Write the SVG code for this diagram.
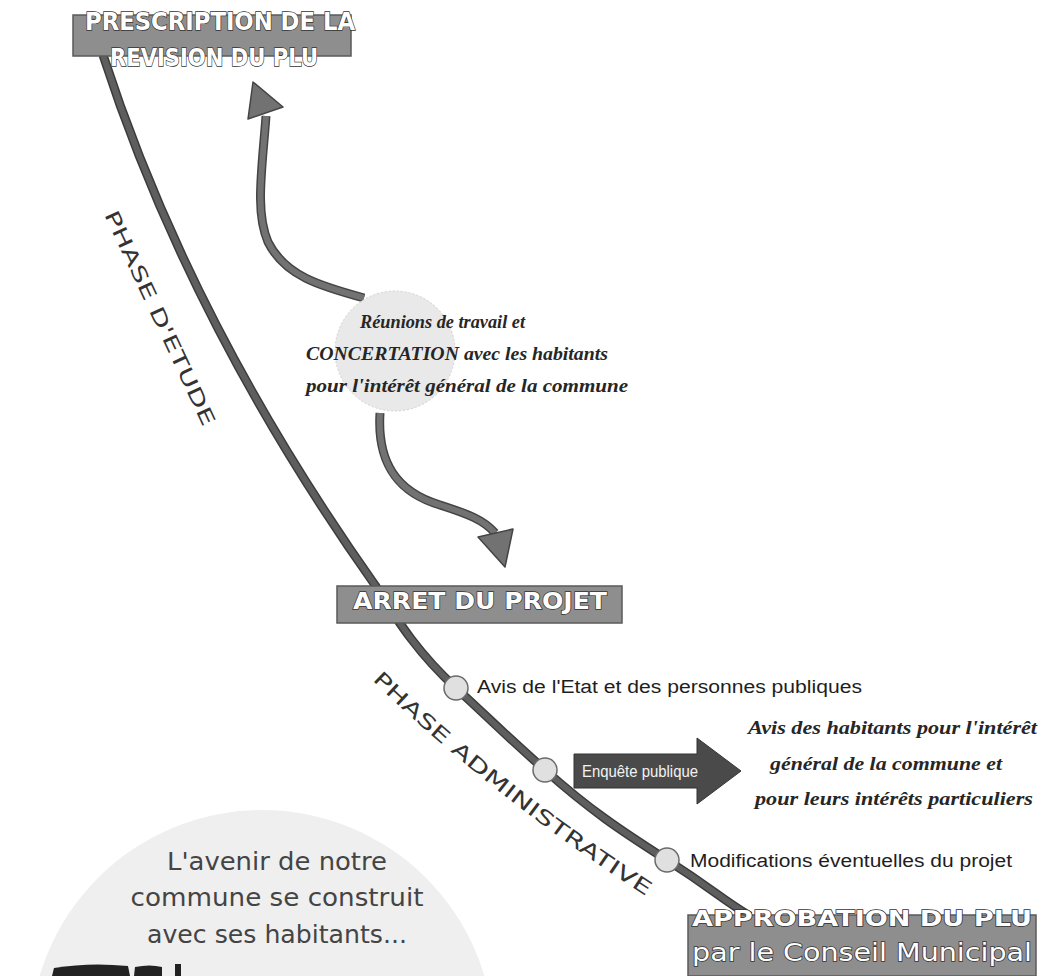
<svg xmlns="http://www.w3.org/2000/svg" width="1038" height="976" viewBox="0 0 1038 976">
<defs>
<style>
.box{fill:#8e8e8e;stroke:#5a5a5a;stroke-width:1.5}
.boxt{font-family:"DejaVu Sans",sans-serif;font-weight:bold;fill:#fff;stroke:#333;stroke-width:1.4;paint-order:stroke}
.hand{font-family:"Liberation Serif",serif;font-style:italic;font-weight:bold;fill:#262626;font-size:18px}
.arial{font-family:"Liberation Sans",Arial,sans-serif;fill:#1e1e1e;font-size:18px}
.phase{font-family:"DejaVu Sans",sans-serif;fill:#333;font-size:20px}
.slog{font-family:"DejaVu Sans",sans-serif;fill:#444;font-size:24px}
.dot{fill:#e0e0e0;stroke:#6a6a6a;stroke-width:1.5}
.lo{fill:none;stroke:#3c3c3c;stroke-width:9}
.li{fill:none;stroke:#5e5e5e;stroke-width:6}
.ao{fill:none;stroke:#444;stroke-width:9}
.ai{fill:none;stroke:#727272;stroke-width:6}
.head{fill:#727272;stroke:#444;stroke-width:1.5;stroke-linejoin:round}
</style>
</defs>
<rect width="1038" height="976" fill="#fff"/>

<g id="slogan">
<circle cx="262" cy="1042" r="232" fill="#efefef"/>
<text class="slog" x="277" y="870" text-anchor="middle" textLength="220" lengthAdjust="spacingAndGlyphs">L'avenir de notre</text>
<text class="slog" x="277" y="906" text-anchor="middle" textLength="293" lengthAdjust="spacingAndGlyphs">commune se construit</text>
<text class="slog" x="277" y="943" text-anchor="middle" textLength="260" lengthAdjust="spacingAndGlyphs">avec ses habitants...</text>
<path d="M52,976 L54,968 Q90,962 128,966 L130,976 Z" fill="#222"/>
<path d="M134,976 L135,967 Q150,964 162,967 L162,976 Z" fill="#222"/>
<rect x="175" y="964" width="6" height="12" fill="#222"/>
</g>

<g id="connectors">
<path class="lo" d="M103,55 C150,200 230,380 375,585 C400,625 420,655 456,688 S500,730 545,770 S620,830 667,860 S720,898 750,916"/>
<path class="li" d="M103,55 C150,200 230,380 375,585 C400,625 420,655 456,688 S500,730 545,770 S620,830 667,860 S720,898 750,916"/>
<path class="ao" d="M364,298 C320,286 285,276 268,242 C255,212 262,170 266,116"/>
<path class="ai" d="M364,298 C320,286 285,276 268,242 C255,212 262,170 266,116"/>
<polygon class="head" points="253,82 283,107 248,119"/>
<path class="ao" d="M380,413 C377,462 396,492 440,505 C468,514 484,520 495,533"/>
<path class="ai" d="M380,413 C377,462 396,492 440,505 C468,514 484,520 495,533"/>
<polygon class="head" points="478,537 513,529 505,567"/>
<text class="phase" transform="translate(160,318) rotate(65)" x="0" y="7" text-anchor="middle" textLength="235" lengthAdjust="spacingAndGlyphs">PHASE D'ETUDE</text>
<path id="pa" d="M372,680 Q495,800 655,902" fill="none"/>
<text class="phase"><textPath href="#pa" textLength="350" lengthAdjust="spacingAndGlyphs">PHASE ADMINISTRATIVE</textPath></text>
</g>

<g id="concertation">
<circle cx="395" cy="351" r="60" fill="#e9e9e9" stroke="#d2d2d2" stroke-dasharray="2 2"/>
<text class="hand" x="360" y="328" textLength="165" lengthAdjust="spacingAndGlyphs">Réunions de travail et</text>
<text class="hand" x="306" y="360" textLength="302" lengthAdjust="spacingAndGlyphs">CONCERTATION avec les habitants</text>
<text class="hand" x="306" y="392" textLength="322" lengthAdjust="spacingAndGlyphs">pour l'intérêt général de la commune</text>
</g>

<g id="prescription">
<rect class="box" x="73" y="15" width="278" height="41"/>
<text class="boxt" x="85" y="30" font-size="24" textLength="270" lengthAdjust="spacingAndGlyphs">PRESCRIPTION DE LA</text>
<text class="boxt" x="110" y="66" font-size="24" textLength="208" lengthAdjust="spacingAndGlyphs">REVISION DU PLU</text>
</g>

<g id="arret">
<rect class="box" x="337" y="586" width="285" height="37"/>
<text class="boxt" x="353" y="609" font-size="23" textLength="254" lengthAdjust="spacingAndGlyphs">ARRET DU PROJET</text>
</g>

<g id="avis-etat">
<circle class="dot" cx="456" cy="688" r="12"/>
<text class="arial" x="477" y="693" textLength="385" lengthAdjust="spacingAndGlyphs">Avis de l'Etat et des personnes publiques</text>
</g>

<g id="enquete">
<circle class="dot" cx="545" cy="770" r="12"/>
<polygon points="574,754 697,754 697,738 741,771 697,804 697,788 574,788" fill="#4a4a4a" stroke="#333" stroke-width="1"/>
<text x="582" y="777" style="font-family:'Liberation Sans',Arial,sans-serif;font-size:17px;fill:#f2f2f2" textLength="116" lengthAdjust="spacingAndGlyphs">Enquête publique</text>
</g>

<g id="avis-habitants">
<text class="hand" x="748" y="734" textLength="289" lengthAdjust="spacingAndGlyphs">Avis des habitants pour l'intérêt</text>
<text class="hand" x="770" y="770" textLength="232" lengthAdjust="spacingAndGlyphs">général de la commune et</text>
<text class="hand" x="755" y="805" textLength="278" lengthAdjust="spacingAndGlyphs">pour leurs intérêts particuliers</text>
</g>

<g id="modifications">
<circle class="dot" cx="667" cy="860" r="12"/>
<text class="arial" x="690" y="867" textLength="322" lengthAdjust="spacingAndGlyphs">Modifications éventuelles du projet</text>
</g>

<g id="approbation">
<rect class="box" x="688" y="915" width="348" height="61"/>
<text class="boxt" x="692" y="926" font-size="22" textLength="340" lengthAdjust="spacingAndGlyphs">APPROBATION DU PLU</text>
<text class="boxt" x="692" y="961" font-size="24" style="font-weight:normal" textLength="340" lengthAdjust="spacingAndGlyphs">par le Conseil Municipal</text>
</g>
</svg>
